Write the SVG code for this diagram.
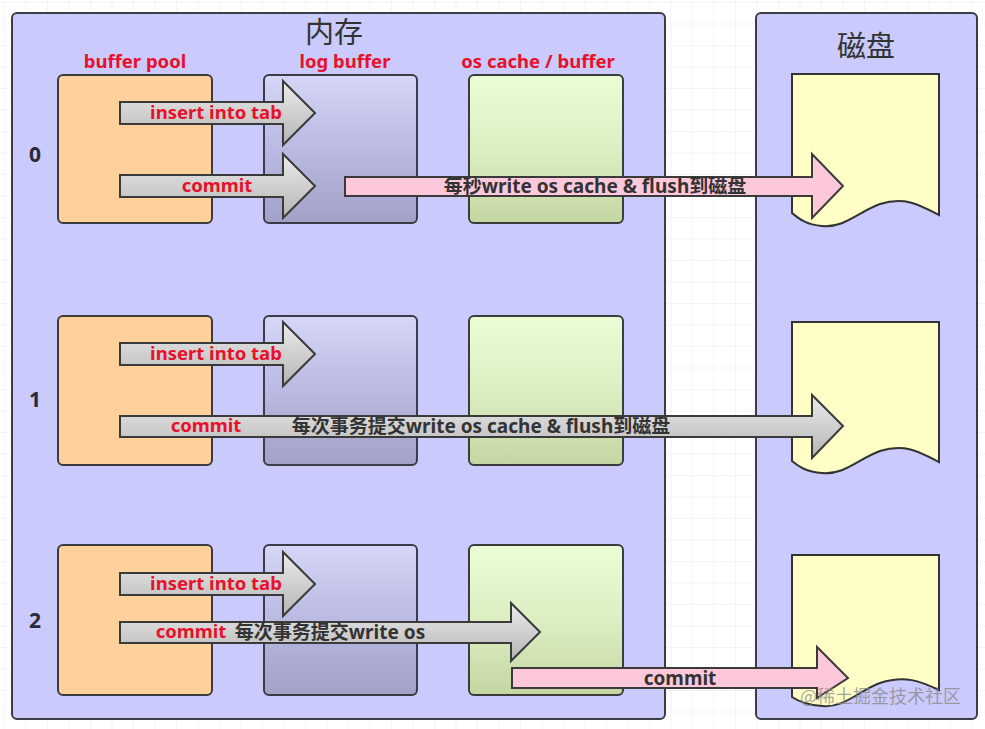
<svg xmlns="http://www.w3.org/2000/svg" width="985" height="729" viewBox="0 0 985 729">
<defs>
<pattern id="grid" width="21.5" height="21.5" patternUnits="userSpaceOnUse" x="5" y="3">
<path d="M21.5 0V21.5M0 21.5H21.5" fill="none" stroke="#ebebeb" stroke-width="1"/>
</pattern>
<linearGradient id="gLog" x1="0" y1="0" x2="0" y2="1">
<stop offset="0" stop-color="#d6d6f8"/>
<stop offset="0.45" stop-color="#bcbce4"/>
<stop offset="1" stop-color="#a2a2c8"/>
</linearGradient>
<linearGradient id="gOs" x1="0" y1="0" x2="0" y2="1">
<stop offset="0" stop-color="#eafdd6"/>
<stop offset="0.5" stop-color="#dcefc2"/>
<stop offset="1" stop-color="#c4d6a2"/>
</linearGradient>
<linearGradient id="gArrow" x1="0" y1="0" x2="0" y2="1">
<stop offset="0" stop-color="#ececec"/>
<stop offset="1" stop-color="#b4b4b4"/>
</linearGradient>
<style>
.panel{fill:#cacafc;stroke:#3c3c48;stroke-width:2}
.bp{fill:#fdd09c;stroke:#3c3c3c;stroke-width:2}
.lb{fill:url(#gLog);stroke:#3c3c48;stroke-width:2}
.os{fill:url(#gOs);stroke:#3c3c3c;stroke-width:2}
.doc{fill:#fefec6;stroke:#333;stroke-width:2}
.ga{fill:url(#gArrow);stroke:#3a3a3a;stroke-width:2;stroke-linejoin:miter}
.pa{fill:#fdc8da;stroke:#3a3a3a;stroke-width:2}
.title{font-family:"Noto Sans CJK SC","Noto Sans",sans-serif;font-size:29px;fill:#333;text-anchor:middle}
.col{font-family:"Noto Sans","Noto Sans CJK SC",sans-serif;font-size:18.5px;font-weight:bold;fill:#e8102a;text-anchor:middle}
.red{font-family:"Noto Sans","Noto Sans CJK SC",sans-serif;font-size:18.5px;font-weight:bold;fill:#e8102a;text-anchor:middle}
.dark{font-family:"Noto Sans","Noto Sans CJK SC",sans-serif;font-size:19px;font-weight:bold;fill:#333;text-anchor:middle}
.row{font-family:"Noto Sans",sans-serif;font-size:21px;font-weight:bold;fill:#2a2a3a;text-anchor:middle}
.wm{font-family:"Noto Sans CJK SC",sans-serif;font-size:18px;fill:#888;fill-opacity:0.75}
</style>
</defs>
<rect width="985" height="729" fill="#fff"/>
<rect width="985" height="729" fill="url(#grid)"/>

<g id="memory">
<rect class="panel" x="12" y="13" width="653" height="706" rx="5"/>
<text class="title" x="334" y="43">内存</text>
</g>
<g id="disk">
<rect class="panel" x="756" y="13" width="221" height="706" rx="5"/>
<text class="title" x="866" y="57">磁盘</text>
</g>

<g id="labels">
<text class="col" x="135" y="68">buffer pool</text>
<text class="col" x="345" y="68">log buffer</text>
<text class="col" x="538" y="68">os cache / buffer</text>
<text class="row" x="35" y="162">0</text>
<text class="row" x="35" y="407">1</text>
<text class="row" x="35" y="628">2</text>
</g>

<g id="row0">
<rect class="bp" x="58" y="75" width="154" height="148" rx="5"/>
<rect class="lb" x="264" y="75" width="153" height="148" rx="5"/>
<rect class="os" x="469" y="75" width="154" height="148" rx="5"/>
<path class="doc" d="M792 74H939V215C920 205 905 196 880 204C858 212 845 228 822 226C806 225 798 218 792 213Z"/>
</g>
<g id="row1">
<rect class="bp" x="58" y="316" width="154" height="149" rx="5"/>
<rect class="lb" x="264" y="316" width="153" height="149" rx="5"/>
<rect class="os" x="469" y="316" width="154" height="149" rx="5"/>
<path class="doc" d="M792 322H939V462C920 452 905 443 880 451C858 459 845 475 822 473C806 472 798 466 792 461Z"/>
</g>
<g id="row2">
<rect class="bp" x="58" y="545" width="154" height="150" rx="5"/>
<rect class="lb" x="264" y="545" width="153" height="150" rx="5"/>
<rect class="os" x="469" y="545" width="154" height="150" rx="5"/>
<path class="doc" d="M792 555H939V690C920 681 905 675 880 683C858 691 845 708 822 706C806 705 798 701 792 697Z"/>
</g>

<g id="connectors">
<polygon class="ga" points="120,102 283,102 283,81 315,113 283,145 283,124 120,124"/>
<polygon class="ga" points="120,175 283,175 283,154 315,186 283,218 283,197 120,197"/>
<polygon class="pa" points="345,177 812,177 812,154 843,186 812,218 812,196 345,196"/>

<polygon class="ga" points="120,343 283,343 283,322 315,354 283,386 283,365 120,365"/>
<polygon class="ga" points="120,416 812,416 812,395 843,426 812,458 812,437 120,437"/>

<polygon class="ga" points="120,573 283,573 283,552 315,584 283,616 283,595 120,595"/>
<polygon class="ga" points="120,622 511,622 511,603 540,632 511,661 511,643 120,643"/>
<polygon class="pa" points="512,668 817,668 817,647 848,678 817,698 817,688 512,688"/>
</g>

<g id="arrow-labels">
<text class="red" x="216" y="119">insert into tab</text>
<text class="red" x="217" y="192">commit</text>
<text class="dark" x="595" y="193">每秒write os cache &amp; flush到磁盘</text>
<text class="red" x="206" y="432">commit</text>
<text class="red" x="216" y="360">insert into tab</text>
<text class="dark" x="481" y="433">每次事务提交write os cache &amp; flush到磁盘</text>
<text class="red" x="216" y="590">insert into tab</text>
<text class="red" x="191" y="638">commit</text>
<text class="dark" x="330" y="639">每次事务提交write os</text>
<text class="dark" x="680" y="685">commit</text>
</g>

<text class="wm" x="800" y="703">@稀土掘金技术社区</text>
</svg>
